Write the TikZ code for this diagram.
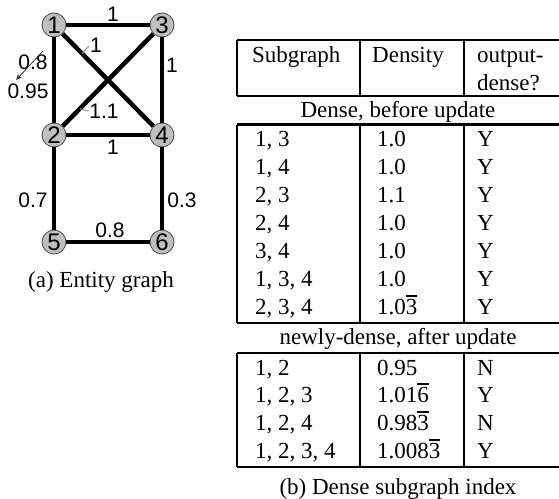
\documentclass[tikz,border=0pt]{standalone}
\usepackage{fontspec}
\setmainfont{Liberation Serif}
\newfontfamily\arialf{Liberation Sans}
\usetikzlibrary{arrows.meta,calc}
\newcommand\ovd[1]{\leavevmode\vbox{\hrule height 2.2pt\kern 2pt\hbox{#1}}}
\begin{document}
\begin{tikzpicture}[x=1pt,y=-1pt,
  vert/.style={circle,draw=black!70,line width=0.8pt,fill=black!25,minimum size=24pt,inner sep=0pt,font=\arialf\fontsize{24}{24}\selectfont},
  edge/.style={line width=4.5pt},
  elab/.style={font=\arialf\fontsize{21}{21}\selectfont,inner sep=0pt},
  leader/.style={draw=black!45,line width=1pt},
  chg/.style={draw=black!80,line width=0.8pt,-{Stealth[length=6pt,width=5pt]}},
  tt/.style={font=\fontsize{23}{28}\selectfont,inner sep=0pt,anchor=base west},
  ttc/.style={font=\fontsize{23}{28}\selectfont,inner sep=0pt,anchor=base},
  border/.style={line width=2.8pt},
  colline/.style={line width=2pt}]
\useasboundingbox (0,0) rectangle (559,498);
% ---------- graph ----------
\node[vert] (n1) at (54,25) {1};
\node[vert] (n3) at (162,25) {3};
\node[vert] (n2) at (54,135) {2};
\node[vert] (n4) at (162,135) {4};
\node[vert] (n5) at (54,242) {5};
\node[vert] (n6) at (162,242) {6};
\draw[edge] (n1) -- (n3);
\draw[edge] (n1) -- (n2);
\draw[edge] (n3) -- (n4);
\draw[edge] (n1) -- (n4);
\draw[edge] (n2) -- (n3);
\draw[edge] (n2) -- (n4);
\draw[edge] (n2) -- (n5);
\draw[edge] (n4) -- (n6);
\draw[edge] (n5) -- (n6);
\node[elab] (l13) at (113,14) {1};
\node[elab] (l34) at (172,65) {1};
\node[elab] (l14) at (96,45) {1};
\coordinate (p14) at ($(n1)!0.26!(n4)$);
\draw[leader] (p14) -- ($(l14.west)+(-1,1)$);
\node[elab] (l12old) at (33,62) {0.8};
\node[elab] (l12) at (28,91) {0.95};
\coordinate (a1) at (43,51);
\coordinate (a2) at (16,80);
\draw[chg] (a1) -- (a2);
\node[elab] (l23) at (104,111) {1.1};
\coordinate (p23) at ($(n2)!0.24!(n3)$);
\draw[leader] (p23) -- ($(l23.west)+(-1,0)$);
\node[elab] (l24) at (113,147) {1};
\node[elab] (l25) at (33,200) {0.7};
\node[elab] (l46) at (182,200) {0.3};
\node[elab] (l56) at (110,230) {0.8};
\node[ttc] (capa) at (101,287) {(a) Entity graph};
% ---------- table ----------
\draw[border] (237,40) -- (565,40) (237,96) -- (565,96) (237,40) -- (237,96);
\draw[colline] (360,40) -- (360,96) (464,40) -- (464,96);
\node[tt] (h1) at (252,62) {Subgraph};
\node[tt] (h2) at (372,62) {Density};
\node[tt] (h3) at (477,62) {output-};
\node[tt] (h3b) at (477,90) {dense?};
\node[ttc] (s1) at (398,117) {Dense, before update};
\draw[border] (237,124.5) -- (565,124.5) (237,323) -- (565,323) (237,124.5) -- (237,323);
\draw[colline] (360,124.5) -- (360,323) (464,124.5) -- (464,323);
\foreach \i/\a/\b/\c in {0/{1, 3}/{1.0}/Y, 1/{1, 4}/{1.0}/Y, 2/{2, 3}/{1.1}/Y, 3/{2, 4}/{1.0}/Y, 4/{3, 4}/{1.0}/Y, 5/{1, 3, 4}/{1.0}/Y, 6/{2, 3, 4}/{1.0\ovd{3}}/Y}{
  \node[tt] (ra\i) at (255,146.5+28*\i) {\a};
  \node[tt] (rb\i) at (377,146.5+28*\i) {\b};
  \node[tt] (rc\i) at (477,146.5+28*\i) {\c};
}
\node[ttc] (s2) at (398,344) {newly-dense, after update};
\draw[border] (237,353) -- (565,353) (237,467) -- (565,467) (237,353) -- (237,467);
\draw[colline] (360,353) -- (360,467) (464,353) -- (464,467);
\foreach \i/\a/\b/\c in {0/{1, 2}/{0.95}/N, 1/{1, 2, 3}/{1.01\ovd{6}}/Y, 2/{1, 2, 4}/{0.98\ovd{3}}/N, 3/{1, 2, 3, 4}/{1.008\ovd{3}}/Y}{
  \node[tt] (sa\i) at (255,375+27.7*\i) {\a};
  \node[tt] (sb\i) at (377,375+27.7*\i) {\b};
  \node[tt] (sc\i) at (477,375+27.7*\i) {\c};
}
\node[ttc] (capb) at (398,494) {(b) Dense subgraph index};
\end{tikzpicture}
\end{document}
